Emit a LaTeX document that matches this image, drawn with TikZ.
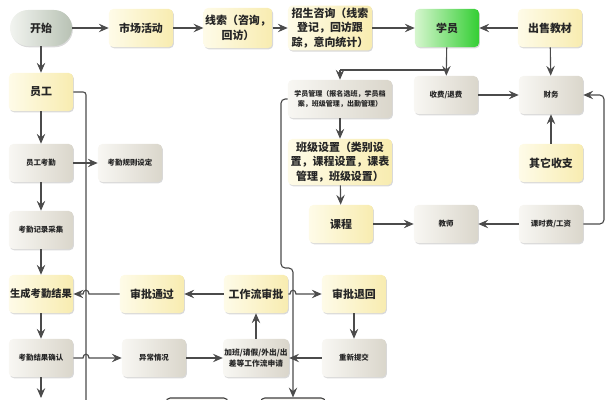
\documentclass[tikz,border=0pt]{standalone}
\usepackage{fontspec}
\setmainfont{Noto Sans CJK SC}
\usetikzlibrary{arrows.meta,shadows}
\definecolor{yl1}{RGB}{254,251,232}
\definecolor{yl2}{RGB}{248,236,176}
\definecolor{gr1}{RGB}{248,247,243}
\definecolor{gr2}{RGB}{218,214,203}
\definecolor{gn1}{RGB}{214,246,206}
\definecolor{gn2}{RGB}{52,206,52}
\definecolor{st1}{RGB}{242,244,240}
\definecolor{st2}{RGB}{184,194,180}
\definecolor{lncol}{RGB}{75,75,75}

\begin{document}
\begin{tikzpicture}[x=0.025cm, y=-0.025cm,
  box/.style = {rounded corners=3pt, minimum width=1.6cm, minimum height=0.95cm, inner sep=1pt, align=center, text=black!85, drop shadow={opacity=0.3, shadow xshift=0.6pt, shadow yshift=-0.9pt}},
  ybox/.style = {box, left color=yl1, right color=yl2, font=\fontsize{7.8}{10.5}\selectfont\bfseries},
  gbox/.style = {box, left color=gr1, right color=gr2, font=\fontsize{5.3}{7}\selectfont\bfseries},
  lin/.style = {draw=lncol, line width=0.8pt},
  arr/.style = {lin, -{Stealth[length=7pt, width=6pt, inset=2.5pt]}}]
\useasboundingbox (0,0) rectangle (614,400); \clip (0,0) rectangle (614,400);
% top row
\node[ybox, rounded corners=0.45cm, minimum width=1.55cm, minimum height=0.9cm, left color=st1, right color=st2](1) at (41,28) {开始};
\node[ybox](2) at (141,28) {市场活动}; \node[ybox, minimum width=1.7cm, minimum height=1cm](3) at (238,28) {线索（咨询，\\回访）};
\node[ybox, minimum width=2.1cm, minimum height=1.12cm](4) at (330,28) {招生咨询（线索\\登记，回访跟\\踪，意向统计）};
\node[ybox, left color=gn1, right color=gn2](5) at (447,28) {学员}; \node[ybox](6) at (550,28) {出售教材};
% left column
\node[ybox](7) at (41,92) {员工}; \node[gbox](11) at (41,163) {员工考勤}; \node[gbox](12) at (130,163) {考勤规则设定};
\node[gbox](15) at (41,230) {考勤记录采集}; \node[ybox, font=\fontsize{7.3}{9}\selectfont\bfseries](19) at (41,294) {生成考勤结果}; \node[gbox](23) at (41,358) {考勤结果确认};
% student side
\node[gbox, minimum width=2.6cm, font=\fontsize{5}{7}\selectfont\bfseries](8) at (340,99) {学员管理（报名选班，学员档\\案，班级管理，出勤管理）};
\node[gbox](9) at (446,95) {收费/退费}; \node[gbox](10) at (551,95) {财务};
\node[ybox, minimum width=2.6cm, minimum height=1.15cm](13) at (340,162) {班级设置（类别设\\置，课程设置，课表\\管理，班级设置）};
\node[ybox](14) at (551,163) {其它收支};
\node[ybox](16) at (341,224) {课程}; \node[gbox](17) at (446,224) {教师}; \node[gbox](18) at (551,224) {课时费/工资};
% workflow
\node[ybox](20) at (152,294) {审批通过}; \node[ybox](21) at (256,294) {工作流审批}; \node[ybox](22) at (354,294) {审批退回};
\node[gbox](24) at (154,358) {异常情况}; \node[gbox, font=\fontsize{5.5}{7.5}\selectfont\bfseries](25) at (256,358) {加班/请假/外出/出\\差等工作流申请}; \node[gbox](26) at (354,358) {重新提交};
\node[box, draw=black!75, line width=0.8pt, fill=gr1, minimum width=1.55cm, minimum height=1cm](27) at (197,418) {};
\node[box, draw=black!75, line width=0.8pt, fill=gr1, minimum width=1.62cm, minimum height=1cm](28) at (293,418) {};
\coordinate (e1) at (41,398); \coordinate (e2) at (86,410); \coordinate (b5) at (447,70);
% connectors
\draw[arr] (1) -- (2); \draw[arr] (2) -- (3); \draw[arr] (3) -- (4); \draw[arr] (4) -- (5); \draw[arr] (6) -- (5);
\draw[arr] (5) -- (9); \draw[lin] (b5) -- (340,70); \draw[arr] (340,70) -- (8); \draw[arr] (6) -- (10); \draw[arr] (9) -- (10); \draw[arr] (14) -- (10);
\draw[arr, rounded corners=3pt] (18.east) -- (604,224) -- (604,95) -- (10.east);
\draw[arr] (18) -- (17); \draw[arr] (16) -- (17); \draw[arr] (8) -- (13); \draw[arr] (13) -- (16);
\draw[arr] (1) -- (7); \draw[arr] (7) -- (11); \draw[arr] (11) -- (15); \draw[arr] (15) -- (19); \draw[arr] (19) -- (23); \draw[arr] (23) -- (e1);
\draw[lin, rounded corners=2pt] (7.east) -- (86,92) -- (e2); \draw[arr] (11) -- (12);
\draw[arr, rounded corners=3pt] (8.west) -- (281,99) -- (281,268) -- (293,268) -- (28.north);
\draw[arr] (21) -- (20); \draw[arr] (20.west) -- (89,294) .. controls (89,289) and (83,289) .. (83,294) -- (19.east);
\draw[arr] (21.east) -- (290,294) .. controls (290,289) and (296,289) .. (296,294) -- (22.west);
\draw[arr] (22) -- (26); \draw[arr] (26) -- (25); \draw[arr] (25) -- (21);
\draw[arr] (23.east) -- (83,358) .. controls (83,353) and (89,353) .. (89,358) -- (24.west); \draw[arr] (24) -- (25);
\end{tikzpicture}
\end{document}
